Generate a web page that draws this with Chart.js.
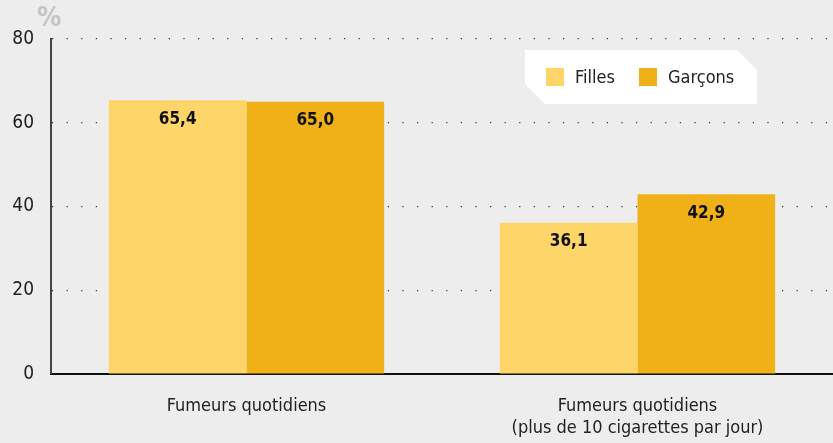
<!DOCTYPE html>
<html><head><meta charset="utf-8">
<script src="https://cdn.jsdelivr.net/npm/chart.js@4/dist/chart.umd.min.js"></script>
<style>
html,body{margin:0;padding:0;background:#ededed;}
#wrap{position:relative;width:833px;height:443px;}
</style></head>
<body><div id="wrap"><canvas id="c" width="833" height="443"></canvas></div>
<script>
const categories = [["Fumeurs quotidiens"], ["Fumeurs quotidiens", "(plus de 10 cigarettes par jour)"]];
const seriesNames = ["Filles", "Garçons"];
const filles = [65.4, 36.1];
const garcons = [65.0, 42.9];
const yTicks = [0, 20, 40, 60, 80];
const colors = ["#FDD568", "#EFB117"];
const FONT = "'Liberation Sans Narrow','DejaVu Sans Condensed','Roboto Condensed',sans-serif";

const labelsPlugin = {
  id: 'vals',
  afterDatasetsDraw(chart) {
    const ctx = chart.ctx;
    ctx.save();
    ctx.font = "bold 17px " + FONT;
    ctx.fillStyle = "#111";
    ctx.textAlign = "center";
    ctx.textBaseline = "middle";
    chart.data.datasets.forEach((ds, i) => {
      chart.getDatasetMeta(i).data.forEach((bar, j) => {
        ctx.fillText(ds.data[j].toFixed(1).replace('.', ','), bar.x, bar.y + 19);
      });
    });
    ctx.restore();
  }
};

const decoPlugin = {
  id: 'deco',
  afterDraw(chart) {
    const ctx = chart.ctx;
    ctx.save();
    // % unit
    ctx.font = "bold 27px " + FONT;
    ctx.fillStyle = "#c4c4c4";
    ctx.textAlign = "left";
    ctx.textBaseline = "middle";
    ctx.fillText("%", 37, 19);
    // legend box
    const x0 = 525, y0 = 50, x1 = 757, y1 = 104, c = 20;
    ctx.fillStyle = "#ffffff";
    ctx.beginPath();
    ctx.moveTo(x0, y0);
    ctx.lineTo(x1 - c, y0);
    ctx.lineTo(x1, y0 + c);
    ctx.lineTo(x1, y1);
    ctx.lineTo(x0 + c, y1);
    ctx.lineTo(x0, y1 - c);
    ctx.closePath();
    ctx.fill();
    ctx.font = "18px " + FONT;
    ctx.fillStyle = "#222";
    const items = [[546, 575], [639, 668]];
    chart.data.datasets.forEach((ds, i) => {
      ctx.fillStyle = ds.backgroundColor;
      ctx.fillRect(items[i][0], 68, 18, 18);
      ctx.fillStyle = "#222";
      ctx.fillText(ds.label, items[i][1], 78);
    });
    ctx.restore();
  }
};

new Chart(document.getElementById('c'), {
  type: 'bar',
  data: {
    labels: categories,
    datasets: [
      { label: seriesNames[0], data: filles, backgroundColor: colors[0] },
      { label: seriesNames[1], data: garcons, backgroundColor: colors[1] }
    ]
  },
  options: {
    responsive: false,
    animation: false,
    devicePixelRatio: 1,
    categoryPercentage: 0.704,
    barPercentage: 1,
    layout: { padding: { top: 39, right: -3, left: 0, bottom: 0 } },
    plugins: { legend: { display: false }, tooltip: { enabled: false } },
    scales: {
      x: {
        grid: { display: false },
        border: { display: true, color: "#111", width: 2 },
        ticks: { color: "#222", font: { family: FONT, size: 18 }, padding: 14, maxRotation: 0 },
        afterFit(s) { s.height = 69; }
      },
      y: {
        min: 0, max: 80,
        afterBuildTicks(s) { s.ticks = yTicks.map(v => ({ value: v })); },
        grid: { color: "#333", lineWidth: 1.2, drawTicks: false },
        border: { display: true, color: "#444", width: 2, dash: [1.2, 13.4] },
        ticks: { color: "#222", font: { family: FONT, size: 19 }, padding: 17 },
        afterFit(s) { s.width = 51; }
      }
    }
  },
  plugins: [labelsPlugin, decoPlugin]
});
</script></body></html>
